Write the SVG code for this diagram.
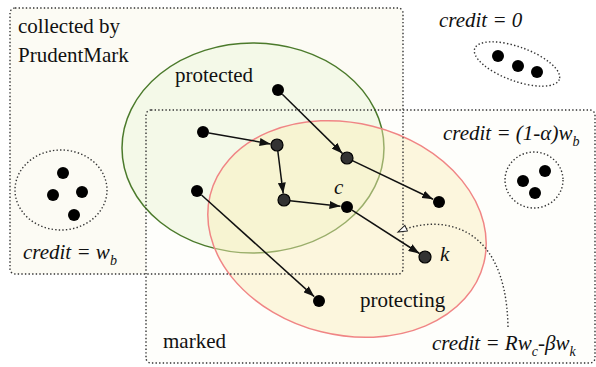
<svg xmlns="http://www.w3.org/2000/svg" width="596" height="367" viewBox="0 0 596 367">
<style>
.box{stroke:#333;stroke-width:1.4;stroke-dasharray:1.4 2.2;fill:none}
.dot{stroke:#333;stroke-width:1.4;stroke-dasharray:1.4 2.2;fill:none}
.t{font-family:"Liberation Serif","Times New Roman",serif;font-size:21px;fill:#111}
.it{font-family:"Liberation Serif","Times New Roman",serif;font-size:21px;font-style:italic;fill:#111}
.sub{font-size:14px}
.n{fill:#000}
.g{fill:#333;stroke:#000;stroke-width:1.2}
.e{stroke:#111;stroke-width:1.5;fill:none;marker-end:url(#ah)}
</style>
<defs>
<marker id="ah" markerUnits="userSpaceOnUse" markerWidth="11" markerHeight="8" refX="11" refY="4" orient="auto">
<path d="M0,0 L11,4 L0,8 z" fill="#111"/>
</marker>
<marker id="oh" markerUnits="userSpaceOnUse" markerWidth="12" markerHeight="10" refX="10" refY="4" orient="auto">
<path d="M1,1 L10,4 L1,7 z" fill="#fff" stroke="#222" stroke-width="1"/>
</marker>
</defs>
<rect width="596" height="367" fill="#fff"/>
<g id="collected">
<rect x="10" y="8" width="393" height="266" rx="5" fill="#fcfbf4"/>
</g>
<g id="marked-bg">
<rect x="146" y="110" width="449" height="253" rx="5" fill="#fefefb"/>
</g>
<g id="protected">
<ellipse cx="253" cy="148" rx="131" ry="105" fill="#f4f9e8" stroke="#4b7a2b" stroke-width="1.5"/>
</g>
<g id="protecting">
<ellipse cx="347" cy="229" rx="141" ry="106" transform="rotate(14 347 229)" fill="#fbeeb8" fill-opacity="0.45" stroke="#f08585" stroke-width="1.5"/>
</g>
<rect class="box" x="10" y="8" width="393" height="266" rx="5"/>
<rect class="box" x="146" y="110" width="449" height="253" rx="5"/>
<text class="t" x="18" y="33">collected by</text>
<text class="t" x="18" y="62">PrudentMark</text>
<text class="t" x="175" y="82">protected</text>
<text class="t" x="360" y="307">protecting</text>
<text class="t" x="163" y="348">marked</text>
<g id="cluster-zero">
<ellipse class="dot" cx="517" cy="64" rx="45" ry="17" transform="rotate(20 517 64)"/>
<circle class="n" cx="498" cy="56" r="6"/>
<circle class="n" cx="518" cy="66" r="6"/>
<circle class="n" cx="537" cy="72" r="6"/>
<text class="it" x="439" y="27">credit = 0</text>
</g>
<g id="cluster-alpha">
<ellipse class="dot" cx="534" cy="180" rx="29" ry="28"/>
<circle class="n" cx="545" cy="171" r="6"/>
<circle class="n" cx="523" cy="181" r="6"/>
<circle class="n" cx="535" cy="193" r="6"/>
<text class="it" x="443" y="140">credit = (1-α)w<tspan class="sub" dy="6">b</tspan></text>
</g>
<g id="cluster-wb">
<ellipse class="dot" cx="61" cy="190" rx="46" ry="40"/>
<circle class="n" cx="63" cy="173" r="6"/>
<circle class="n" cx="53" cy="195" r="6"/>
<circle class="n" cx="82" cy="192" r="6"/>
<circle class="n" cx="74" cy="215" r="6"/>
<text class="it" x="23" y="259">credit = w<tspan class="sub" dy="6">b</tspan></text>
</g>
<g id="connectors">
<line class="e" x1="282.3" y1="94.2" x2="342.4" y2="153.4"/>
<line class="e" x1="208.9" y1="133" x2="270.6" y2="143.9"/>
<line class="e" x1="277.8" y1="151" x2="283.2" y2="193.6"/>
<line class="e" x1="290" y1="200.7" x2="340.5" y2="206.3"/>
<line class="e" x1="352.4" y1="160.6" x2="433.1" y2="199.2"/>
<line class="e" x1="352" y1="210.2" x2="419.5" y2="253.5"/>
<line class="e" x1="201.5" y1="195" x2="314.2" y2="296.6"/>
<path class="dot" d="M508,327 C506,215 432,216 398,232" marker-end="url(#oh)" stroke-dasharray="1.4 2.2"/>
</g>
<g id="n1"><circle class="n" cx="278" cy="90" r="6"/></g>
<g id="n2"><circle class="n" cx="203" cy="132" r="6"/></g>
<g id="n3"><circle class="g" cx="277" cy="145" r="6"/></g>
<g id="n4"><circle class="g" cx="284" cy="200" r="6"/></g>
<g id="n5"><circle class="g" cx="347" cy="158" r="6"/></g>
<g id="c"><circle class="n" cx="347" cy="207" r="6"/><text class="it" x="334" y="194">c</text></g>
<g id="n6"><circle class="n" cx="439" cy="202" r="6"/></g>
<g id="k"><circle class="g" cx="425" cy="257" r="6"/><text class="it" x="440" y="261">k</text></g>
<g id="n7"><circle class="n" cx="197" cy="191" r="6"/></g>
<g id="n8"><circle class="n" cx="319" cy="301" r="6"/></g>
<text class="it" x="432" y="350">credit = Rw<tspan class="sub" dy="6">c</tspan><tspan dy="-6">-βw</tspan><tspan class="sub" dy="6">k</tspan></text>
</svg>
